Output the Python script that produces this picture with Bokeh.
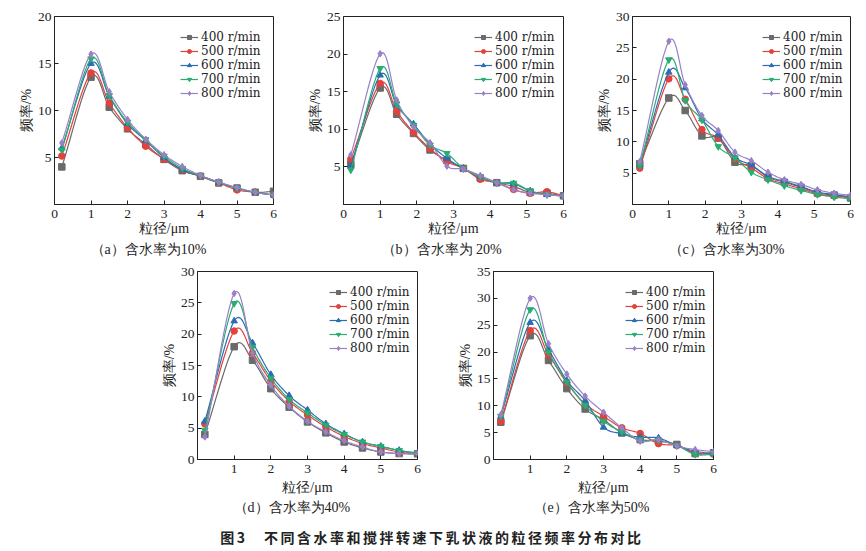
import numpy as np
from bokeh.plotting import figure
from bokeh.models import Range1d, FixedTicker, Legend, LegendItem, Div, Spacer
from bokeh.layouts import row, column
from bokeh.embed import file_html
from bokeh.resources import INLINE

# ---------------- data ----------------
speeds = ["400 r/min", "500 r/min", "600 r/min", "700 r/min", "800 r/min"]
colors = ["#6a6a6a", "#e5413b", "#2b6cb3", "#28ad72", "#9a80c6"]
markers = ["square", "circle", "triangle", "inverted_triangle", "diamond"]

x_half = [0.2, 1.0, 1.5, 2.0, 2.5, 3.0, 3.5, 4.0, 4.5, 5.0, 5.5, 6.0]
x_fine = [0.2, 1.0, 1.45, 1.91, 2.36, 2.82, 3.27, 3.73, 4.18, 4.64, 5.09, 5.55, 6.0]

# (a) water content 10 %
a_400 = [4.0, 13.55, 10.35, 8.05, 6.4, 4.8, 3.6, 3.0, 2.3, 1.75, 1.3, 1.4]
a_500 = [5.15, 14.0, 10.8, 8.15, 6.2, 4.85, 3.7, 3.0, 2.3, 1.55, 1.3, 1.0]
a_600 = [6.0, 15.0, 11.5, 8.6, 6.8, 5.0, 3.7, 3.05, 2.35, 1.75, 1.3, 1.0]
a_700 = [5.8, 15.5, 11.6, 8.75, 6.9, 5.15, 3.85, 3.05, 2.35, 1.75, 1.3, 1.0]
a_800 = [6.55, 16.0, 12.0, 9.05, 6.95, 5.3, 4.05, 3.1, 2.4, 1.8, 1.3, 1.0]

# (b) water content 20 %
b_400 = [5.4, 15.5, 12.0, 9.45, 7.25, 5.9, 4.8, 3.5, 2.9, 2.4, 1.6, 1.5, 1.15]
b_500 = [6.05, 16.1, 12.4, 9.6, 7.45, 5.7, 4.8, 3.35, 2.9, 2.0, 1.5, 1.7, 1.15]
b_600 = [5.1, 17.2, 13.2, 10.7, 8.05, 6.15, 4.8, 3.7, 2.9, 2.75, 1.8, 1.3, 1.15]
b_700 = [4.6, 18.1, 13.4, 10.55, 7.9, 6.8, 4.8, 3.7, 2.9, 2.85, 1.85, 1.3, 1.15]
b_800 = [6.6, 20.05, 13.9, 10.3, 8.2, 5.1, 4.7, 3.85, 2.9, 1.95, 1.5, 1.3, 1.15]

# (c) water content 30 %
c_400 = [6.5, 17.0, 15.0, 10.95, 10.6, 6.75, 6.2, 4.35, 3.55, 2.75, 1.85, 1.5, 1.05]
c_500 = [5.8, 20.05, 16.8, 11.95, 10.6, 7.3, 5.85, 4.1, 3.3, 2.5, 1.7, 1.35, 1.1]
c_600 = [6.3, 21.1, 18.6, 13.65, 11.1, 7.55, 6.3, 4.5, 3.7, 2.85, 2.0, 1.6, 1.2]
c_700 = [6.2, 23.1, 16.6, 13.5, 9.25, 7.45, 5.15, 3.95, 3.0, 2.25, 1.6, 1.2, 0.9]
c_800 = [6.85, 26.05, 19.1, 14.2, 11.8, 8.35, 7.0, 5.15, 3.95, 3.2, 2.35, 1.8, 1.45]

# (d) water content 40 %
d_400 = [4.0, 18.0, 15.85, 11.3, 8.35, 6.0, 4.25, 2.8, 1.85, 1.2, 0.95, 0.9]
d_500 = [5.7, 20.5, 17.0, 12.5, 9.3, 7.1, 5.2, 3.7, 2.55, 1.85, 1.2, 0.95]
d_600 = [6.1, 22.1, 18.6, 13.55, 10.2, 7.9, 5.7, 4.1, 2.8, 2.1, 1.45, 1.0]
d_700 = [4.7, 24.9, 17.9, 13.0, 9.6, 7.45, 5.5, 4.0, 2.8, 2.1, 1.45, 1.0]
d_800 = [3.6, 26.5, 17.0, 11.85, 8.5, 6.1, 4.4, 3.0, 2.0, 1.2, 0.95, 0.9]

# (e) water content 50 %
e_400 = [6.95, 23.05, 18.45, 13.2, 9.4, 7.4, 4.95, 3.7, 3.4, 2.8, 1.1, 1.25]
e_500 = [7.1, 24.0, 19.5, 14.25, 10.35, 8.05, 5.9, 4.85, 2.95, 2.6, 1.25, 1.0]
e_600 = [8.05, 25.5, 20.45, 14.7, 10.95, 6.0, 4.8, 4.15, 4.0, 2.6, 1.55, 1.1]
e_700 = [8.05, 27.9, 20.0, 14.45, 10.1, 7.1, 5.15, 3.7, 3.55, 2.6, 0.95, 0.95]
e_800 = [8.35, 30.0, 21.55, 15.9, 11.8, 8.8, 5.9, 3.4, 3.7, 2.5, 1.85, 1.45]

captions = ["（a）含水率为10%", "（b）含水率为 20%", "（c）含水率为30%",
            "（d）含水率为40%", "（e）含水率为50%"]
x_ticks_0 = [0, 1, 2, 3, 4, 5, 6]
x_ticks_1 = [1, 2, 3, 4, 5, 6]
y_ticks_a = [5, 10, 15, 20]
y_ticks_b = [5, 10, 15, 20, 25]
y_ticks_c = [5, 10, 15, 20, 25, 30]
y_ticks_d = [0, 5, 10, 15, 20, 25, 30]
y_ticks_e = [0, 5, 10, 15, 20, 25, 30, 35]
x_title = "粒径/μm"
y_title = "频率/%"
fig_title = "图3　不同含水率和搅拌转速下乳状液的粒径频率分布对比"

TXT_FONT = "Liberation Serif"
LEG_FONT = "DejaVu Serif"


def smooth(xs, ys, n=14):
    """Catmull-Rom curve through the measured points (line rendering only)."""
    P = np.column_stack([xs, ys]).astype(float)
    P = np.vstack([2 * P[0] - P[1], P, 2 * P[-1] - P[-2]])
    t = np.linspace(0, 1, n, endpoint=False)[:, None]
    segs = []
    for i in range(1, len(P) - 2):
        p0, p1, p2, p3 = P[i - 1], P[i], P[i + 1], P[i + 2]
        m1 = (p2 - p0) / 2
        m2 = (p3 - p1) / 2
        h00 = 2 * t**3 - 3 * t**2 + 1
        h10 = t**3 - 2 * t**2 + t
        h01 = -2 * t**3 + 3 * t**2
        h11 = t**3 - t**2
        segs.append(h00 * p1 + h10 * m1 + h01 * p2 + h11 * m2)
    segs.append(P[-2][None, :])
    out = np.vstack(segs)
    return out[:, 0], out[:, 1]


def make_panel(caption, xs, series, ymax, yticks, xticks, fw,
               bl, br, bt, bb, leg_x, xlab_standoff, title_standoff, cap_off):
    p = figure(frame_width=fw, frame_height=188, x_range=Range1d(0, 6),
               y_range=Range1d(0, ymax), output_backend="svg",
               toolbar_location=None, min_border_left=bl, min_border_right=br,
               min_border_top=bt, min_border_bottom=bb,
               title=caption, title_location="below")
    p.title.align = "left"
    p.title.offset = cap_off
    p.title.text_font = TXT_FONT
    p.title.text_font_style = "normal"
    p.title.text_font_size = "14px"
    p.title.text_color = "#222222"
    p.title.standoff = title_standoff
    p.xgrid.visible = False
    p.ygrid.visible = False
    p.outline_line_color = "#222222"
    p.outline_line_width = 1
    p.background_fill_color = "white"
    p.border_fill_color = "white"
    for ax in (p.xaxis, p.yaxis):
        ax.major_tick_in = 4
        ax.major_tick_out = 0
        ax.minor_tick_line_color = None
        ax.axis_line_color = "#222222"
        ax.major_tick_line_color = "#222222"
        ax.major_label_text_font = TXT_FONT
        ax.major_label_text_font_size = "13.5px"
        ax.major_label_text_color = "#222222"
        ax.axis_label_text_font = TXT_FONT
        ax.axis_label_text_font_size = "14px"
        ax.axis_label_text_font_style = "normal"
        ax.axis_label_text_color = "#222222"
    p.xaxis.axis_label_standoff = xlab_standoff
    p.yaxis.axis_label_standoff = 1
    p.xaxis.major_label_standoff = 5
    p.yaxis.major_label_standoff = 3
    p.xaxis.ticker = FixedTicker(ticks=xticks)
    p.yaxis.ticker = FixedTicker(ticks=yticks)
    p.xaxis.axis_label = x_title
    p.yaxis.axis_label = y_title

    items = []
    for name, col, mk, ys in zip(speeds, colors, markers, series):
        sx, sy = smooth(xs, ys)
        lr = p.line(sx, sy, line_color=col, line_width=1.2)
        sr = p.scatter(xs, ys, marker=mk, size=6.5, fill_color=col,
                       line_color=col)
        items.append(LegendItem(label=name, renderers=[lr, sr]))
    leg = Legend(items=items, location=(leg_x, 104))
    leg.background_fill_alpha = 0
    leg.border_line_alpha = 0
    leg.padding = 0
    leg.margin = 0
    leg.spacing = 0
    leg.label_standoff = 3
    leg.glyph_width = 18
    leg.glyph_height = 10
    leg.label_height = 10
    leg.label_text_font = LEG_FONT
    leg.label_text_font_size = "12px"
    leg.label_text_color = "#222222"
    p.add_layout(leg)
    return p


fa = make_panel(captions[0], x_half, [a_400, a_500, a_600, a_700, a_800], 20,
                y_ticks_a, x_ticks_0, 219, 54, 23, 16, 58, 126, 0, 2, 36)
fb = make_panel(captions[1], x_fine, [b_400, b_500, b_600, b_700, b_800], 25,
                y_ticks_b, x_ticks_0, 220, 47, 21, 16, 58, 131, 0, 2, 38)
fc = make_panel(captions[2], x_fine, [c_400, c_500, c_600, c_700, c_800], 30,
                y_ticks_c, x_ticks_0, 218, 48, 14, 16, 58, 130, 0, 2, 36)
fd = make_panel(captions[3], x_half, [d_400, d_500, d_600, d_700, d_800], 30,
                y_ticks_d, x_ticks_1, 220, 47, 29, 9, 60, 132, 4, 0, 36)
fe = make_panel(captions[4], x_half, [e_400, e_500, e_600, e_700, e_800], 35,
                y_ticks_e, x_ticks_1, 220, 47, 17, 9, 60, 132, 4, 0, 40)

title_div = Div(
    text=('<div style="width:864px;text-align:center;'
          'font-family:\'Noto Sans CJK SC\';'
          'font-weight:bold;font-size:14px;letter-spacing:2.5px;color:#222;'
          'padding-top:10px;line-height:16px;">' + fig_title + '</div>'),
    width=864, height=30, margin=0)

top = row(fa, fb, fc, spacing=0)
bottom = row(Spacer(width=150, height=20, margin=0), fd, fe, spacing=0)
layout = column(top, bottom, title_div, spacing=0)

open("out.html", "w").write(file_html(layout, INLINE))
